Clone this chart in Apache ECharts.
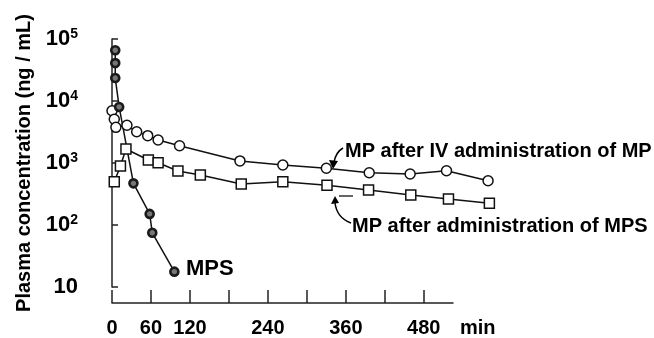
<!DOCTYPE html>
<html>
<head>
<meta charset="utf-8">
<script src="https://cdn.jsdelivr.net/npm/echarts@6/dist/echarts.min.js"></script>
<style>
html, body { margin: 0; padding: 0; background: #fff; }
#chart { width: 654px; height: 338px; }
</style>
</head>
<body>
<div id="chart"></div>
<script>
// MPS (prodrug)
var mpsTime = [5, 5, 5, 11, 33, 58, 62, 96];
var mpsConc = [66000, 41000, 23600, 8100, 480, 155, 77, 18.3];
// MP after IV administration of MP
var ivTime = [0, 3.5, 6, 23, 38, 55, 71, 104, 197, 263, 330, 396, 459, 515, 579];
var ivConc = [7050, 5130, 3810, 4110, 3240, 2800, 2390, 1930, 1100, 946, 840, 711, 678, 766, 529];
// MP after administration of MPS
var mpTime = [3.5, 13, 21.5, 56, 71, 101.5, 136, 199, 263, 331, 395, 460, 518, 581];
var mpConc = [510, 912, 1710, 1138, 1030, 757, 653, 469, 510, 447, 375, 312, 269, 230];
var xLabels = [0, 60, 120, 240, 360, 480];

function pairs(t, c) {
	var out = [];
	for (var i = 0; i < t.length; i++) {
		out.push([t[i], c[i]]);
	}
	return out;
}

var font = 'Liberation Sans, Arial, sans-serif';
var myChart = echarts.init(document.getElementById('chart'));

// grid 0 carries the drawn axes (axis ends at 525 min),
// grid 1 has the same scale but reaches 600 min so the late samples are plotted
var scale = 341 / 525;
var gridRight2 = 654 - 112 - 600 * scale;

option = {
	animation: false,
	grid: [
		{ left: 112, top: 39, right: 201, bottom: 50 },
		{ left: 112, top: 39, right: gridRight2, bottom: 50 }
	],
	xAxis: [
		{
			type: 'value',
			gridIndex: 0,
			min: 0,
			max: 525,
			interval: 60,
			offset: 16,
			axisLine: { show: true, lineStyle: { color: '#222', width: 1.5 } },
			axisTick: { show: true, inside: true, length: 13, lineStyle: { color: '#222', width: 1.5 } },
			splitLine: { show: false },
			axisLabel: {
				margin: 15,
				color: '#000',
				fontFamily: font,
				fontWeight: 'bold',
				fontSize: 20,
				showMaxLabel: false,
				formatter: function (v) {
					return xLabels.indexOf(v) >= 0 ? String(v) : '';
				}
			}
		},
		{ type: 'value', gridIndex: 1, min: 0, max: 600, show: false, splitLine: { show: false } }
	],
	yAxis: [
		{
			type: 'log',
			gridIndex: 0,
			logBase: 10,
			min: 10,
			max: 100000,
			offset: 14,
			name: 'Plasma concentration (ng / mL)',
			nameLocation: 'middle',
			nameGap: 61,
			nameTextStyle: { color: '#000', fontFamily: font, fontWeight: 'bold', fontSize: 20 },
			axisLine: { show: true, lineStyle: { color: '#222', width: 1.5 } },
			axisTick: { show: true, inside: true, length: 6, lineStyle: { color: '#222', width: 1.5 } },
			splitLine: { show: false },
			axisLabel: {
				margin: 20,
				color: '#000',
				fontFamily: font,
				fontWeight: 'bold',
				fontSize: 22,
				formatter: function (v) {
					var e = Math.round(Math.log(v) / Math.LN10);
					if (e === 1) return '10';
					return '10{sup|' + e + '}';
				},
				rich: {
					sup: { fontFamily: font, fontWeight: 'bold', fontSize: 14, verticalAlign: 'top', padding: [0, 0, 9, 0] }
				}
			}
		},
		{ type: 'log', gridIndex: 1, logBase: 10, min: 10, max: 100000, show: false, splitLine: { show: false } }
	],
	series: [
		{
			name: 'MP IV',
			type: 'line',
			xAxisIndex: 1,
			yAxisIndex: 1,
			data: pairs(ivTime, ivConc),
			symbol: 'circle',
			symbolSize: 10,
			lineStyle: { color: '#111', width: 1.5 },
			itemStyle: { color: '#fff', borderColor: '#111', borderWidth: 1.5 }
		},
		{
			name: 'MP from MPS',
			type: 'line',
			xAxisIndex: 1,
			yAxisIndex: 1,
			data: pairs(mpTime, mpConc),
			symbol: 'rect',
			symbolSize: 10,
			lineStyle: { color: '#111', width: 1.5 },
			itemStyle: { color: '#fff', borderColor: '#111', borderWidth: 1.5 }
		},
		{
			name: 'MPS',
			type: 'line',
			xAxisIndex: 1,
			yAxisIndex: 1,
			z: 3,
			data: pairs(mpsTime, mpsConc),
			symbol: 'circle',
			symbolSize: 8,
			lineStyle: { color: '#111', width: 1.5 },
			itemStyle: { color: '#777', borderColor: '#1a1a1a', borderWidth: 2.6 }
		}
	],
	graphic: [
		{
			type: 'text', left: 460, top: 318,
			style: { text: 'min', fill: '#000', font: 'bold 20px ' + font }
		},
		{
			type: 'text', left: 186, top: 258,
			style: { text: 'MPS', fill: '#000', font: 'bold 22px ' + font }
		},
		{
			type: 'text', left: 345, top: 141,
			style: { text: 'MP after IV administration of MP', fill: '#000', font: 'bold 20px ' + font }
		},
		{
			type: 'text', left: 352, top: 216,
			style: { text: 'MP after administration of MPS', fill: '#000', font: 'bold 20px ' + font }
		},
		{
			type: 'bezierCurve',
			shape: { x1: 343, y1: 148, cpx1: 336, cpy1: 152, x2: 334, y2: 162 },
			style: { stroke: '#000', lineWidth: 1.5, fill: null }
		},
		{
			type: 'polygon',
			shape: { points: [[329, 160], [338, 161], [333, 169]] },
			style: { fill: '#000' }
		},
		{
			type: 'bezierCurve',
			shape: { x1: 351, y1: 223, cpx1: 337, cpy1: 218, x2: 335, y2: 203 },
			style: { stroke: '#000', lineWidth: 1.5, fill: null }
		},
		{
			type: 'polygon',
			shape: { points: [[331, 204], [339, 203], [335, 196]] },
			style: { fill: '#000' }
		},
		{
			type: 'line',
			shape: { x1: 339, y1: 196, x2: 353, y2: 196 },
			style: { stroke: '#000', lineWidth: 1.2 }
		}
	]
};
myChart.setOption(option);
</script>
</body>
</html>
